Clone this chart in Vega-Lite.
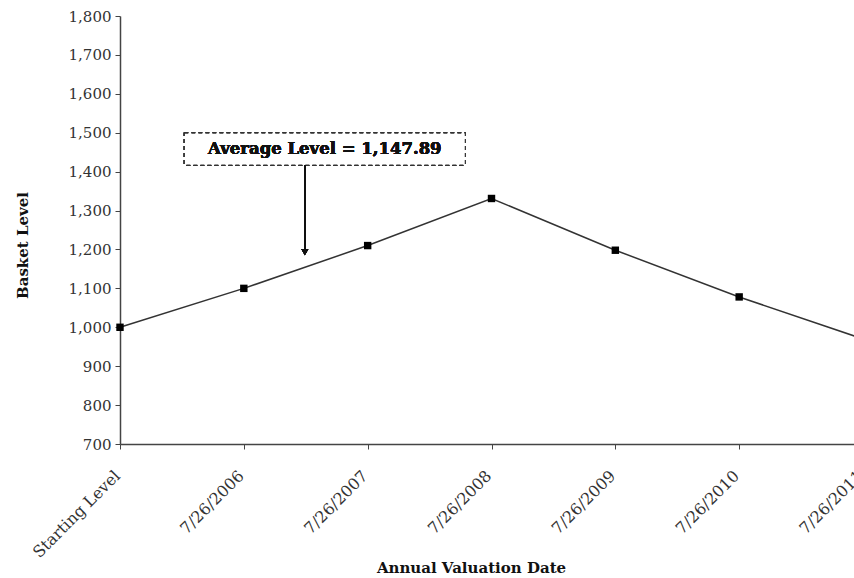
{
  "$schema": "https://vega.github.io/schema/vega-lite/v6.json",
  "width": 734,
  "height": 428,
  "autosize": {"type": "none"},
  "padding": {"left": 120, "top": 16, "right": 0, "bottom": 134},
  "background": "white",
  "config": {
    "view": {"stroke": null},
    "axis": {
      "grid": false,
      "labelFont": "DejaVu Serif",
      "labelColor": "#333333",
      "titleFont": "DejaVu Serif",
      "titleFontSize": 15,
      "titleFontWeight": "bold",
      "titleColor": "#111111",
      "domainColor": "#444444",
      "domainWidth": 1.5,
      "tickColor": "#444444",
      "tickSize": 5
    },
    "axisX": {
      "labelAngle": -45,
      "labelAlign": "right",
      "labelBaseline": "middle",
      "labelFontSize": 16,
      "labelPadding": 24,
      "labelOffset": -3,
      "labelOverlap": false,
      "titleX": 351,
      "titleY": 123,
      "titleBaseline": "middle",
      "titleAlign": "center"
    },
    "axisY": {
      "labelExpr": "format(datum.value, ',.0f')",
      "labelFontSize": 15,
      "labelOverlap": false,
      "labelPadding": 4,
      "values": [700, 800, 900, 1000, 1100, 1200, 1300, 1400, 1500, 1600, 1700, 1800],
      "titleX": -98,
      "titleY": 229,
      "titleAngle": -90,
      "titleBaseline": "middle",
      "titleAlign": "center"
    }
  },
  "data": {
    "values": [
      {"date": "Starting Level", "level": 1000},
      {"date": "7/26/2006", "level": 1100},
      {"date": "7/26/2007", "level": 1210},
      {"date": "7/26/2008", "level": 1331},
      {"date": "7/26/2009", "level": 1198},
      {"date": "7/26/2010", "level": 1078},
      {"date": "7/26/2011", "level": 970}
    ]
  },
  "layer": [
    {
      "mark": {
        "type": "line",
        "color": "#333333",
        "strokeWidth": 1.5,
        "point": {"shape": "square", "filled": true, "color": "black", "size": 55, "opacity": 1}
      },
      "encoding": {
        "x": {
          "field": "date",
          "type": "ordinal",
          "sort": null,
          "scale": {"type": "point", "padding": 0, "range": [0, 743]},
          "axis": {"title": "Annual Valuation Date"}
        },
        "y": {
          "field": "level",
          "type": "quantitative",
          "scale": {"domain": [700, 1800], "nice": false, "zero": false},
          "axis": {"title": "Basket Level", "format": ",.0f"}
        }
      }
    },
    {
      "mark": {"type": "rect", "width": 281, "height": 32, "xOffset": 81, "fill": "white", "stroke": "#333333", "strokeWidth": 1.2, "strokeDash": [4, 3]},
      "encoding": {
        "x": {"datum": "7/26/2006", "type": "ordinal", "axis": {"title": "Annual Valuation Date"}},
        "y": {"datum": 1458, "type": "quantitative", "axis": {"title": "Basket Level", "format": ",.0f"}}
      }
    },
    {
      "mark": {"type": "text", "xOffset": 81, "font": "DejaVu Serif", "fontWeight": "bold", "fontSize": 16.5, "color": "#111111", "align": "center", "baseline": "middle"},
      "encoding": {
        "x": {"datum": "7/26/2006", "type": "ordinal", "axis": {"title": "Annual Valuation Date"}},
        "y": {"datum": 1458, "type": "quantitative", "axis": {"title": "Basket Level", "format": ",.0f"}},
        "text": {"value": "Average Level = 1,147.89"}
      }
    },
    {
      "mark": {"type": "rule", "xOffset": 61, "color": "#111111", "strokeWidth": 1.5},
      "encoding": {
        "x": {"datum": "7/26/2006", "type": "ordinal", "axis": {"title": "Annual Valuation Date"}},
        "y": {"datum": 1417, "type": "quantitative", "axis": {"title": "Basket Level", "format": ",.0f"}},
        "y2": {"datum": 1200}
      }
    },
    {
      "mark": {"type": "point", "shape": "triangle-down", "filled": true, "color": "#111111", "size": 50, "xOffset": 61, "opacity": 1},
      "encoding": {
        "x": {"datum": "7/26/2006", "type": "ordinal", "axis": {"title": "Annual Valuation Date"}},
        "y": {"datum": 1193, "type": "quantitative", "axis": {"title": "Basket Level", "format": ",.0f"}}
      }
    }
  ]
}
